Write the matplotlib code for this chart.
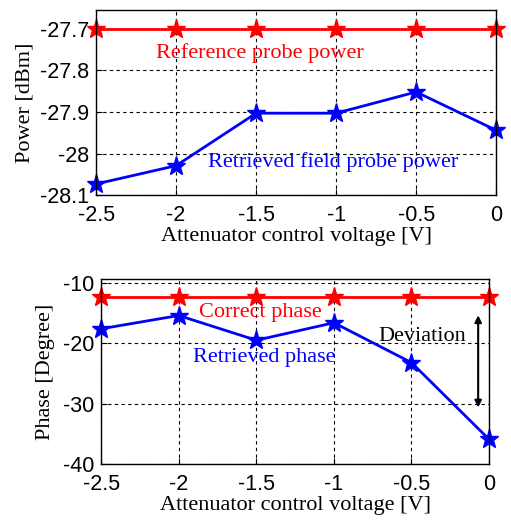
import matplotlib
matplotlib.use("Agg")
import matplotlib.pyplot as plt

voltage = [-2.5, -2.0, -1.5, -1.0, -0.5, 0.0]
ref_power = [-27.7, -27.7, -27.7, -27.7, -27.7, -27.7]
ret_power = [-28.073, -28.029, -27.903, -27.903, -27.852, -27.944]
correct_phase = [-12.4, -12.4, -12.4, -12.4, -12.4, -12.4]
ret_phase = [-17.6, -15.4, -19.5, -16.6, -23.2, -35.9]

xticks = [-2.5, -2, -1.5, -1, -0.5, 0]
xticklabels = ["-2.5", "-2", "-1.5", "-1", "-0.5", "0"]
power_ticks = [-28.1, -28.0, -27.9, -27.8, -27.7]
power_ticklabels = ["-28.1", "-28", "-27.9", "-27.8", "-27.7"]
phase_ticks = [-40, -30, -20, -10]
phase_ticklabels = ["-40", "-30", "-20", "-10"]

serif = "Liberation Serif"
sans = "Liberation Sans"
FS = 16
TFS = 15.5

fig = plt.figure(figsize=(5.11, 5.22), dpi=100)
ax1 = fig.add_axes([0.188, 0.626, 0.783, 0.355])
ax2 = fig.add_axes([0.198, 0.111, 0.759, 0.354])

mk = dict(marker="*", markersize=14, linewidth=2)

ax1.plot(voltage, ref_power, color="#ff0000", **mk, clip_on=False)
ax1.plot(voltage, ret_power, color="#0000ff", **mk, clip_on=False)
ax1.set_xlim(-2.5, 0)
ax1.set_ylim(-28.1, -27.655)
ax1.set_yticks(power_ticks)
ax1.set_yticklabels(power_ticklabels)
ax1.set_ylabel("Power [dBm]", family=serif, fontsize=FS, labelpad=4)
ax1.text(-2.125, -27.758, "Reference probe power", color="#ff0000", family=serif, fontsize=FS, va="center", ha="left")
ax1.text(-1.8, -28.02, "Retrieved field probe power", color="#0000ff", family=serif, fontsize=FS, va="center", ha="left")

ax2.plot(voltage, correct_phase, color="#ff0000", **mk, clip_on=False)
ax2.plot(voltage, ret_phase, color="#0000ff", **mk, clip_on=False)
ax2.set_xlim(-2.5, 0)
ax2.set_ylim(-40, -9.4)
ax2.set_yticks(phase_ticks)
ax2.set_yticklabels(phase_ticklabels)
ax2.set_ylabel("Phase [Degree]", family=serif, fontsize=FS, labelpad=6)
ax2.text(-1.87, -14.9, "Correct phase", color="#ff0000", family=serif, fontsize=FS, va="center", ha="left")
ax2.text(-1.91, -22.4, "Retrieved phase", color="#0000ff", family=serif, fontsize=FS, va="center", ha="left")
ax2.text(-0.15, -18.9, "Deviation", color="black", family=serif, fontsize=FS, va="center", ha="right")
ax2.annotate("", xy=(-0.07, -14.9), xytext=(-0.07, -31.1),
             arrowprops=dict(arrowstyle="<|-|>", color="black", lw=1.5, mutation_scale=10))

for ax in (ax1, ax2):
    ax.set_xticks(xticks)
    ax.set_xticklabels(xticklabels)
    ax.set_xlabel("Attenuator control voltage [V]", family=serif, fontsize=FS, labelpad=1)
    ax.grid(True, color="black", linestyle=(0, (3, 3)), linewidth=0.8)
    ax.tick_params(direction="in", labelsize=TFS, length=4)
    ax.tick_params(axis="x", pad=7)
    ax.tick_params(axis="y", pad=5)
    for lab in ax.get_xticklabels() + ax.get_yticklabels():
        lab.set_family(sans)
    for s in ax.spines.values():
        s.set_linewidth(1.0)
    ax.set_axisbelow(True)

fig.savefig("out.png", dpi=100)
